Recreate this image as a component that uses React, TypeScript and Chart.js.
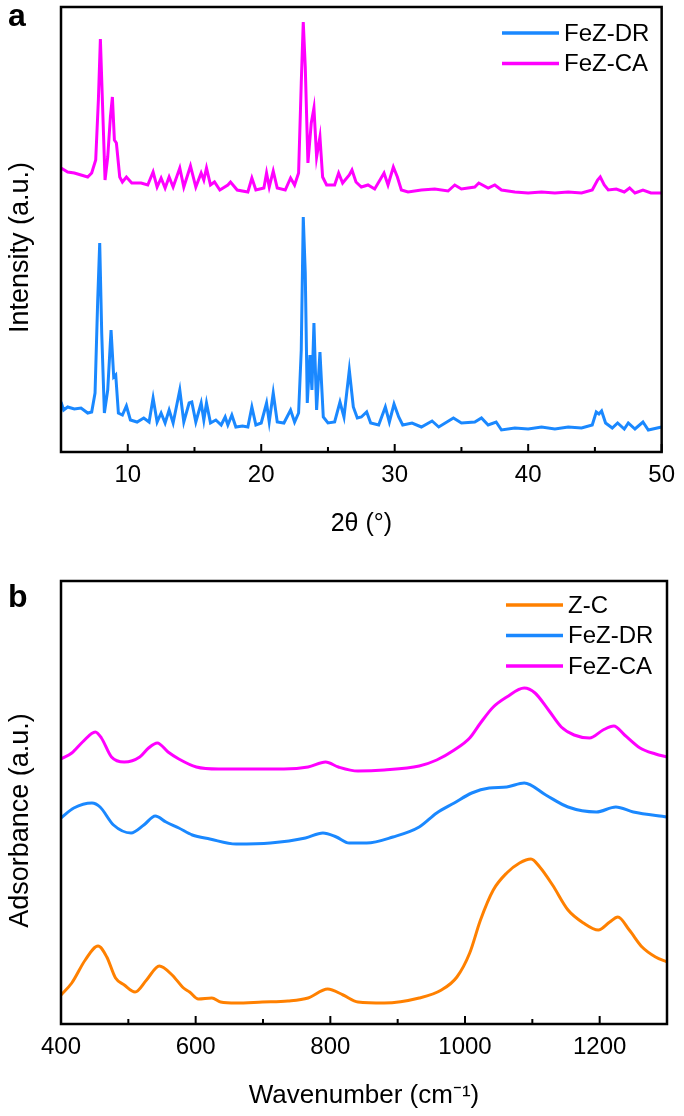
import React, { useEffect, useRef } from 'react';
import { Chart, registerables } from 'chart.js';

Chart.register(...registerables);

const FONT = '"Liberation Sans", Arial, Helvetica, sans-serif';

// ---------- (a) XRD ----------
const xrdTicks = [10, 20, 30, 40, 50];
const xrdMinor = [15, 25, 35, 45];

const caTheta = [5.0, 5.5, 6.0, 6.5, 7.0, 7.3, 7.6, 7.8, 7.95, 8.1, 8.3, 8.5, 8.7, 8.85, 9.0, 9.15, 9.4, 9.6, 9.9, 10.3, 11, 11.5, 11.9, 12.2, 12.5, 12.8, 13.1, 13.4, 13.9, 14.2, 14.7, 15.1, 15.5, 15.7, 15.9, 16.2, 16.5, 16.9, 17.5, 17.7, 18.2, 19.0, 19.3, 19.6, 20.2, 20.4, 20.6, 20.9, 21.2, 21.8, 22.2, 22.5, 22.8, 23.0, 23.15, 23.3, 23.5, 23.75, 23.95, 24.15, 24.4, 24.6, 24.9, 25.5, 25.8, 26.1, 26.6, 26.8, 27.1, 27.5, 28.0, 28.5, 29.2, 29.5, 29.9, 30.2, 30.5, 31, 32, 33, 34, 34.5, 35, 36, 36.3, 37, 37.5, 38, 39, 40, 41, 42, 43, 44, 44.8, 45.2, 45.4, 45.7, 46, 46.6, 47.2, 47.6, 48, 48.6, 49.2, 50];
const caIntensity = [284, 280, 279, 277, 275, 279, 292, 352, 413, 352, 272, 295, 335, 355, 312, 309, 275, 270, 275, 269, 269, 267, 280, 265, 274, 264, 275, 265, 284, 265, 286, 265, 279, 272, 284, 267, 270, 262, 267, 270, 262, 260, 274, 262, 264, 279, 265, 281, 264, 262, 274, 267, 279, 369, 430, 385, 289, 329, 344, 295, 315, 275, 267, 267, 279, 269, 277, 282, 270, 265, 267, 263, 279, 267, 285, 275, 262, 260, 262, 263, 261, 267, 263, 265, 269, 264, 267, 262, 260, 259, 260, 259, 260, 259, 262, 272, 275, 267, 262, 263, 260, 264, 259, 262, 259, 259];

const drTheta = [5.0, 5.2, 5.5, 6.0, 6.5, 7.0, 7.3, 7.55, 7.75, 7.9, 8.05, 8.25, 8.5, 8.75, 8.95, 9.1, 9.3, 9.6, 9.9, 10.2, 10.7, 11.2, 11.6, 11.9, 12.2, 12.5, 12.8, 13.1, 13.4, 13.9, 14.2, 14.6, 14.8, 15.1, 15.5, 15.7, 15.9, 16.2, 16.6, 17.0, 17.3, 17.5, 17.8, 18.1, 18.6, 19.0, 19.3, 19.6, 20.0, 20.4, 20.6, 20.9, 21.2, 21.7, 22.2, 22.5, 22.8, 23.0, 23.15, 23.3, 23.45, 23.65, 23.8, 23.95, 24.15, 24.4, 24.65, 25.0, 25.5, 25.9, 26.2, 26.6, 26.9, 27.2, 27.5, 27.9, 28.2, 28.8, 29.3, 29.6, 29.95, 30.3, 30.6, 31.3, 32, 32.8, 33.3, 34.4, 35, 36, 36.5, 37, 37.6, 38, 39, 40, 41, 42, 43, 44, 44.8, 45.1, 45.3, 45.5, 45.8, 46.3, 46.7, 47.2, 47.5, 48, 48.6, 49, 50];
const drIntensity = [50, 42, 45, 43, 44, 39, 40, 59, 152, 209, 119, 39, 62, 122, 75, 77, 39, 37, 46, 32, 30, 34, 30, 54, 30, 39, 29, 42, 29, 62, 30, 49, 50, 30, 49, 32, 49, 29, 32, 27, 35, 27, 37, 25, 26, 25, 45, 27, 29, 49, 30, 59, 30, 29, 42, 30, 39, 102, 235, 179, 49, 97, 62, 129, 42, 100, 35, 29, 30, 50, 35, 82, 45, 34, 35, 40, 29, 27, 45, 30, 48, 35, 27, 29, 25, 31, 25, 34, 29, 30, 34, 27, 30, 22, 24, 23, 25, 23, 25, 24, 27, 40, 38, 41, 29, 24, 29, 23, 29, 23, 30, 22, 25];

// ---------- (b) FTIR ----------
const ftirTicks = [400, 600, 800, 1000, 1200];
const ftirMinor = [500, 700, 900, 1100, 1300];

const zcWn = [400, 416, 436, 455, 468, 481, 494, 510, 527, 546, 565, 582, 591, 604, 624, 637, 660, 699, 737, 767, 796, 819, 841, 880, 932, 965, 988, 1007, 1023, 1042, 1062, 1081, 1098, 1111, 1130, 1153, 1176, 1198, 1215, 1227, 1244, 1263, 1283, 1300];
const zcAbs = [29, 41, 64, 78, 67, 46, 39, 32, 44, 58, 49, 36, 32, 25, 26, 22, 21, 22, 23, 26, 35, 29, 22, 21, 26, 34, 47, 71, 104, 134, 151, 161, 165, 157, 139, 114, 101, 94, 102, 107, 94, 77, 67, 62];

const drWn = [400, 419, 446, 458, 478, 504, 523, 540, 556, 575, 595, 621, 660, 711, 763, 789, 809, 828, 854, 893, 932, 958, 984, 1010, 1036, 1062, 1088, 1120, 1153, 1195, 1224, 1250, 1300];
const drAbs = [206, 216, 221, 217, 199, 191, 199, 208, 202, 196, 189, 185, 180, 181, 186, 191, 187, 181, 181, 187, 197, 211, 221, 231, 236, 237, 241, 229, 217, 212, 217, 212, 207];

const caWn = [400, 416, 432, 451, 460, 475, 494, 517, 530, 543, 559, 575, 601, 634, 666, 731, 767, 793, 812, 841, 880, 932, 958, 984, 1007, 1023, 1042, 1062, 1088, 1104, 1124, 1143, 1162, 1185, 1205, 1221, 1237, 1260, 1283, 1300];
const caAbs = [265, 271, 282, 292, 286, 267, 262, 267, 276, 281, 272, 265, 257, 255, 255, 255, 257, 262, 257, 253, 254, 258, 264, 274, 286, 301, 317, 327, 336, 331, 314, 297, 289, 286, 294, 298, 289, 276, 270, 267];

const BLUE = '#1a88ff';
const MAGENTA = '#ff00ff';
const ORANGE = '#ff8000';

const pts = (xs: number[], ys: number[]) => xs.map((x, i) => ({ x, y: ys[i] }));

type DecorOpts = {
  letter: string;
  letterY: number;
  major: number[];
  minor: number[];
  legendTop: number;
  legendX0: number;
  legendX1: number;
  yTitle: string;
};

function decorPlugin(o: DecorOpts) {
  return {
    id: 'decor',
    afterDraw(chart: any) {
      const { ctx, chartArea: a } = chart;
      const xs = chart.scales.x;
      ctx.save();
      // frame
      ctx.strokeStyle = '#000';
      ctx.lineWidth = 2.5;
      ctx.strokeRect(a.left, a.top, a.right - a.left, a.bottom - a.top);
      // inward ticks
      ctx.lineWidth = 2;
      ctx.beginPath();
      o.major.forEach((v) => {
        const px = xs.getPixelForValue(v);
        ctx.moveTo(px, a.bottom);
        ctx.lineTo(px, a.bottom - 8);
      });
      o.minor.forEach((v) => {
        const px = xs.getPixelForValue(v);
        ctx.moveTo(px, a.bottom);
        ctx.lineTo(px, a.bottom - 5);
      });
      ctx.stroke();
      // legend
      ctx.font = `24px ${FONT}`;
      ctx.textBaseline = 'middle';
      ctx.textAlign = 'left';
      chart.data.datasets.forEach((ds: any, i: number) => {
        const y = o.legendTop + i * 30.5;
        ctx.strokeStyle = ds.borderColor;
        ctx.lineWidth = 3.5;
        ctx.beginPath();
        ctx.moveTo(o.legendX0, y);
        ctx.lineTo(o.legendX1, y);
        ctx.stroke();
        ctx.fillStyle = '#000';
        ctx.fillText(ds.label, o.legendX1 + 5, y + 1);
      });
      // y title
      ctx.save();
      ctx.translate(21, (a.top + a.bottom) / 2 + 18);
      ctx.rotate(-Math.PI / 2);
      ctx.font = `27px ${FONT}`;
      ctx.textAlign = 'center';
      ctx.textBaseline = 'middle';
      ctx.fillStyle = '#000';
      ctx.fillText(o.yTitle, 0, 0);
      ctx.restore();
      // panel letter
      ctx.font = `bold 32px ${FONT}`;
      ctx.textBaseline = 'alphabetic';
      ctx.textAlign = 'left';
      ctx.fillStyle = '#000';
      ctx.fillText(o.letter, 8, o.letterY);
      ctx.restore();
    },
  };
}

function buildConfig(p: {
  datasets: any[];
  xMin: number;
  xMax: number;
  yMax: number;
  ticks: number[];
  xTitle: string;
  xTitleSize: number;
  xAxisHeight: number;
  xTitleBottom: number;
  top: number;
  decor: DecorOpts;
}) {
  return {
    type: 'line',
    data: { datasets: p.datasets },
    options: {
      responsive: false,
      animation: false,
      devicePixelRatio: 1,
      layout: { padding: { top: p.top, right: 17, left: 0, bottom: 0 } },
      plugins: { legend: { display: false }, tooltip: { enabled: false } },
      elements: { point: { radius: 0 } },
      scales: {
        x: {
          type: 'linear',
          min: p.xMin,
          max: p.xMax,
          afterBuildTicks: (s: any) => {
            s.ticks = p.ticks.map((value) => ({ value }));
          },
          afterFit: (s: any) => {
            s.height = p.xAxisHeight;
          },
          grid: { display: false, drawTicks: false },
          border: { display: false },
          ticks: {
            padding: 9,
            color: '#000',
            font: { family: FONT, size: 24 },
            maxRotation: 0,
            autoSkip: false,
            callback: (v: any) => String(v),
          },
          title: {
            display: true,
            text: p.xTitle,
            color: '#000',
            font: { family: FONT, size: p.xTitleSize },
            padding: { top: 0, bottom: p.xTitleBottom },
          },
        },
        y: {
          min: 0,
          max: p.yMax,
          afterFit: (s: any) => {
            s.width = 61;
          },
          grid: { display: false, drawTicks: false },
          border: { display: false },
          ticks: { display: false },
          title: { display: false },
        },
      },
    },
    plugins: [decorPlugin(p.decor)],
  };
}

function ChartCanvas({ config, width, height, top }: { config: () => any; width: number; height: number; top: number }) {
  const ref = useRef<HTMLCanvasElement | null>(null);
  useEffect(() => {
    if (!ref.current) return;
    const chart = new Chart(ref.current, config());
    return () => chart.destroy();
  }, []);
  return (
    <canvas
      ref={ref}
      width={width}
      height={height}
      style={{ position: 'absolute', left: 0, top, width, height, display: 'block' }}
    />
  );
}

export default function App() {
  const xrd = () =>
    buildConfig({
      datasets: [
        { label: 'FeZ-DR', data: pts(drTheta, drIntensity), borderColor: BLUE, borderWidth: 3, tension: 0 },
        { label: 'FeZ-CA', data: pts(caTheta, caIntensity), borderColor: MAGENTA, borderWidth: 3, tension: 0 },
      ],
      xMin: 5,
      xMax: 50,
      yMax: 445,
      ticks: xrdTicks,
      xTitle: '2θ (°)',
      xTitleSize: 25,
      xAxisHeight: 108,
      xTitleBottom: 21,
      top: 7,
      decor: { letter: 'a', letterY: 26, major: xrdTicks, minor: xrdMinor, legendTop: 33, legendX0: 502, legendX1: 559, yTitle: 'Intensity (a.u.)' },
    });
  const ftir = () =>
    buildConfig({
      datasets: [
        { label: 'Z-C', data: pts(zcWn, zcAbs), borderColor: ORANGE, borderWidth: 3, tension: 0.4, cubicInterpolationMode: 'monotone' },
        { label: 'FeZ-DR', data: pts(drWn, drAbs), borderColor: BLUE, borderWidth: 3, tension: 0.4, cubicInterpolationMode: 'monotone' },
        { label: 'FeZ-CA', data: pts(caWn, caAbs), borderColor: MAGENTA, borderWidth: 3, tension: 0.4, cubicInterpolationMode: 'monotone' },
      ],
      xMin: 400,
      xMax: 1300,
      yMax: 443,
      ticks: ftirTicks,
      xTitle: 'Wavenumber (cm⁻¹)',
      xTitleSize: 26,
      xAxisHeight: 92,
      xTitleBottom: 5,
      top: 21,
      decor: { letter: 'b', letterY: 47, major: ftirTicks, minor: ftirMinor, legendTop: 45, legendX0: 506, legendX1: 563, yTitle: 'Adsorbance (a.u.)' },
    });
  return (
    <div style={{ position: 'absolute', left: 0, top: 0, width: 684, height: 1116, background: '#fff' }}>
      <ChartCanvas config={xrd} width={684} height={560} top={0} />
      <ChartCanvas config={ftir} width={684} height={556} top={560} />
    </div>
  );
}
